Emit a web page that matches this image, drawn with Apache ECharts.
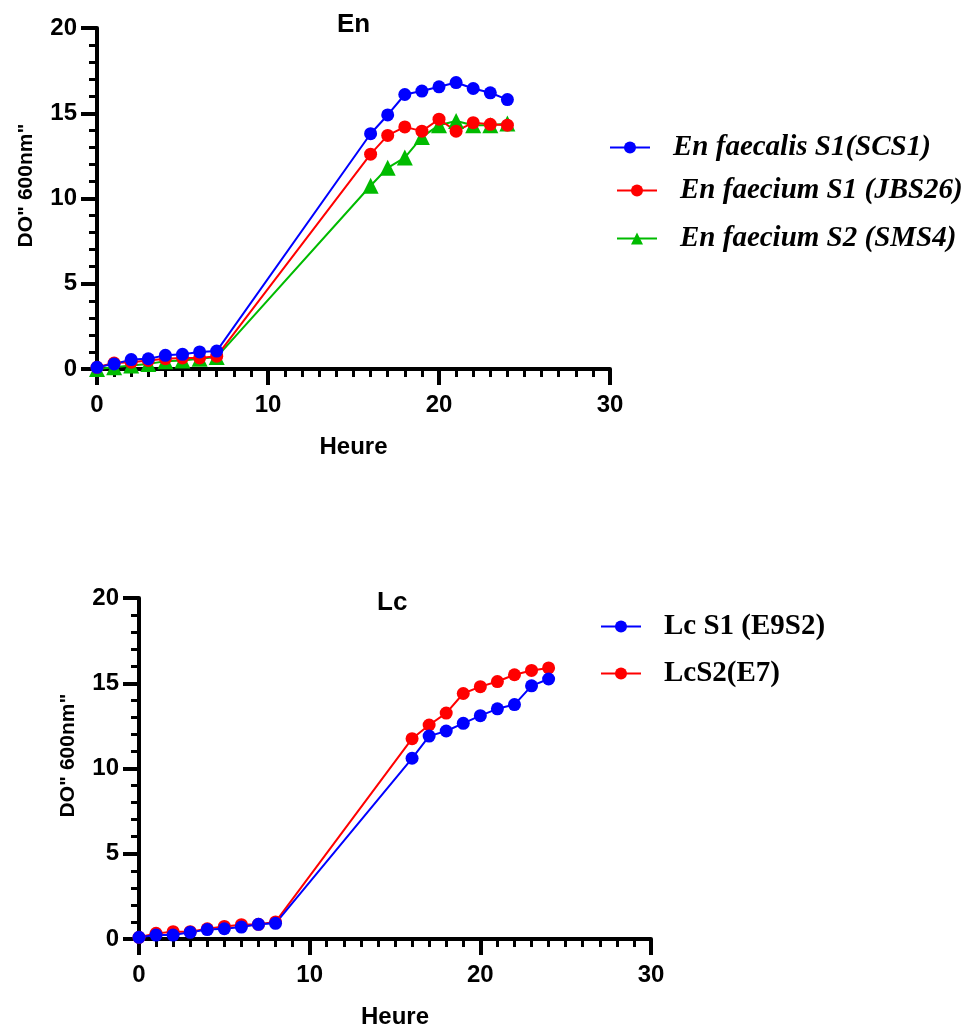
<!DOCTYPE html>
<html>
<head>
<meta charset="utf-8">
<script src="https://cdn.jsdelivr.net/npm/echarts@6/dist/echarts.min.js"></script>
<style>
html,body{margin:0;padding:0;background:#fff;}
#c{width:968px;height:1030px;}
</style>
</head>
<body>
<div id="c"></div>
<script>
// ---- Data: top chart "En" ----
var enHours = [0,1,2,3,4,5,6,7,16,17,18,19,20,21,22,23,24];
var enFaecalisS1 = [0.1,0.3,0.55,0.6,0.8,0.86,1.0,1.05,13.8,14.9,16.1,16.3,16.55,16.8,16.45,16.2,15.8];
var enFaeciumS1  = [0.1,0.35,0.4,0.5,0.6,0.65,0.65,0.75,12.6,13.7,14.2,13.95,14.65,13.95,14.45,14.35,14.3];
var enFaeciumS2  = [0.0,0.1,0.2,0.3,0.45,0.5,0.6,0.7,10.75,11.8,12.4,13.6,14.3,14.55,14.3,14.3,14.4];
var enNames = ['En faecalis S1(SCS1)', 'En faecium S1 (JBS26)', 'En faecium S2 (SMS4)'];

// ---- Data: bottom chart "Lc" ----
var lcHours = [0,1,2,3,4,5,6,7,8,16,17,18,19,20,21,22,23,24];
var lcS1 = [0.1,0.23,0.23,0.39,0.55,0.6,0.7,0.86,0.92,10.6,11.9,12.2,12.65,13.1,13.5,13.75,14.85,15.25];
var lcS2 = [0.1,0.33,0.43,0.43,0.6,0.74,0.84,0.86,1.0,11.75,12.55,13.25,14.4,14.8,15.1,15.5,15.75,15.9];
var lcNames = ['Lc S1 (E9S2)', 'LcS2(E7)'];

// ---- Axis ticks ----
var xTicks = {min:0, max:30, interval:10};
var yTicks = {min:0, max:20, interval:5};
var xAxisTitle = 'Heure';
var yAxisTitle = 'DO" 600nm"';
var titles = ['En', 'Lc'];

function pairs(xs, ys){ return xs.map(function(x,i){ return [x, ys[i]]; }); }

var SANS = 'Liberation Sans';
var SERIF = 'Liberation Serif';
var BLUE = '#0000FF', RED = '#FF0000', GREEN = '#00BB00';

function xAxis(gi){
  return {
    type:'value', gridIndex:gi, min:xTicks.min, max:xTicks.max, interval:xTicks.interval,
    name:xAxisTitle, nameLocation:'middle', nameGap:66,
    nameTextStyle:{fontFamily:SANS, fontWeight:'bold', fontSize:24, color:'#000'},
    axisLine:{show:true, onZero:false, lineStyle:{color:'#000', width:4}},
    axisTick:{show:true, length:16, lineStyle:{color:'#000', width:4}},
    minorTick:{show:true, splitNumber:10, length:8, lineStyle:{color:'#000', width:3}},
    splitLine:{show:false},
    axisLabel:{fontFamily:SANS, fontWeight:'bold', fontSize:24, color:'#000', margin:24}
  };
}
function yAxis(gi){
  return {
    type:'value', gridIndex:gi, min:yTicks.min, max:yTicks.max, interval:yTicks.interval,
    name:yAxisTitle, nameLocation:'middle', nameGap:60,
    nameTextStyle:{fontFamily:SANS, fontWeight:'bold', fontSize:21, color:'#000', padding:[0,0,0,26]},
    axisLine:{show:true, onZero:false, lineStyle:{color:'#000', width:4}},
    axisTick:{show:true, length:16, lineStyle:{color:'#000', width:4}},
    minorTick:{show:true, splitNumber:5, length:8, lineStyle:{color:'#000', width:3}},
    splitLine:{show:false},
    axisLabel:{fontFamily:SANS, fontWeight:'bold', fontSize:24, color:'#000', margin:20}
  };
}
function lineSeries(name, gi, xs, ys, color, symbol, size){
  return {
    type:'line', name:name, xAxisIndex:gi, yAxisIndex:gi,
    data:pairs(xs, ys), symbol:symbol, symbolSize:size, showSymbol:true,
    lineStyle:{color:color, width:2}, itemStyle:{color:color},
    emphasis:{disabled:true}, animation:false
  };
}
function legendItem(name, left, top, italic){
  return {
    data:[name], left:left, top:top, padding:0, orient:'vertical',
    itemWidth:40, itemHeight:15, selectedMode:false,
    textStyle:{fontFamily:SERIF, fontWeight:'bold', fontStyle: italic ? 'italic' : 'normal',
               fontSize:29, color:'#000', padding:[0,0,0,18]}
  };
}

var chart = echarts.init(document.getElementById('c'), null, {renderer:'canvas'});
chart.setOption({
  animation:false,
  backgroundColor:'#fff',
  title:[
    {text:titles[0], left:337, top:12, padding:0, textStyle:{fontFamily:SANS, fontWeight:'bold', fontSize:26, color:'#000'}},
    {text:titles[1], left:377, top:590, padding:0, textStyle:{fontFamily:SANS, fontWeight:'bold', fontSize:26, color:'#000'}}
  ],
  grid:[
    {left:97, top:28, width:513, height:341},
    {left:139, top:598, width:512, height:342}
  ],
  xAxis:[xAxis(0), xAxis(1)],
  yAxis:[yAxis(0), yAxis(1)],
  legend:[
    legendItem(enNames[0], 609, 133, true),
    legendItem(enNames[1], 616, 176, true),
    legendItem(enNames[2], 616, 224, true),
    legendItem(lcNames[0], 600, 612, false),
    legendItem(lcNames[1], 600, 659, false)
  ],
  series:[
    lineSeries(enNames[2], 0, enHours, enFaeciumS2, GREEN, 'triangle', 16),
    lineSeries(enNames[1], 0, enHours, enFaeciumS1, RED, 'circle', 13),
    lineSeries(enNames[0], 0, enHours, enFaecalisS1, BLUE, 'circle', 13),
    lineSeries(lcNames[1], 1, lcHours, lcS2, RED, 'circle', 13),
    lineSeries(lcNames[0], 1, lcHours, lcS1, BLUE, 'circle', 13)
  ]
});
</script>
</body>
</html>
